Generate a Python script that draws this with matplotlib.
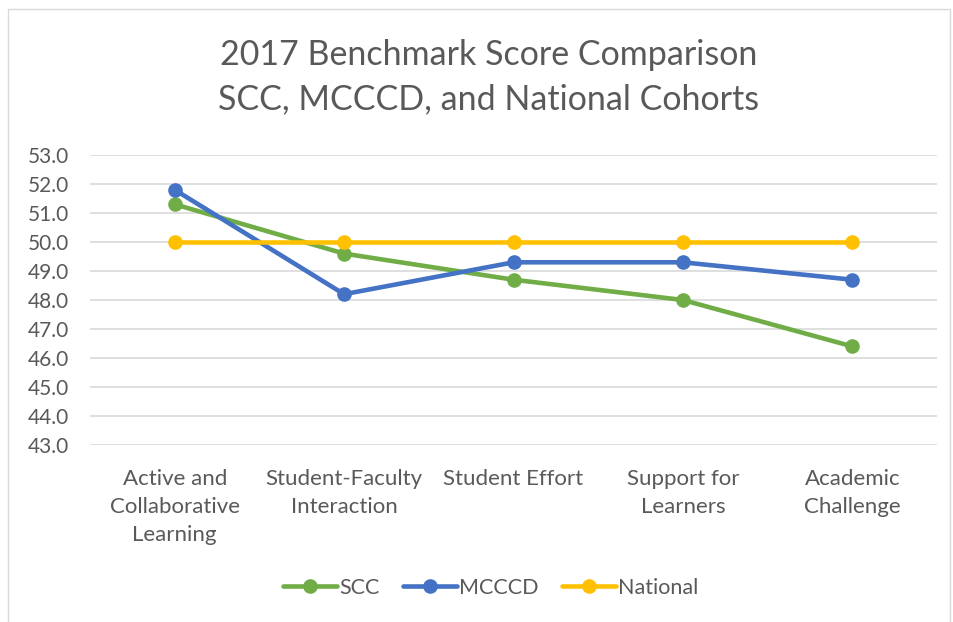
import matplotlib.pyplot as plt
from matplotlib.patches import Rectangle

plt.rcParams['font.family'] = ['Lato', 'DejaVu Sans']

categories = ["Active and\nCollaborative\nLearning", "Student-Faculty\nInteraction",
              "Student Effort", "Support for\nLearners", "Academic\nChallenge"]
scc = [51.3, 49.6, 48.7, 48.0, 46.4]
mcccd = [51.8, 48.2, 49.3, 49.3, 48.7]
national = [50.0, 50.0, 50.0, 50.0, 50.0]
yticks = [43, 44, 45, 46, 47, 48, 49, 50, 51, 52, 53]

text_col = "#595959"

fig = plt.figure(figsize=(9.54, 6.22), dpi=100)
# chart border
fig.patches.append(Rectangle((8 / 954, -0.01), 942 / 954, 1 - 9 / 622 + 0.01,
                             transform=fig.transFigure, fill=False,
                             edgecolor="#D9D9D9", linewidth=1))

ax = fig.add_axes([90 / 954, 1 - 445 / 622, 847 / 954, 290 / 622])
x = range(len(categories))
ax.plot(x, scc, color="#70AD47", lw=3.3, marker="o", ms=9.5, label="SCC",
        solid_capstyle="round", zorder=3)
ax.plot(x, mcccd, color="#4472C4", lw=3.3, marker="o", ms=9.5, label="MCCCD",
        solid_capstyle="round", zorder=4)
ax.plot(x, national, color="#FFC000", lw=3.3, marker="o", ms=9.5, label="National",
        solid_capstyle="round", zorder=5)

ax.set_xlim(-0.5, len(categories) - 0.5)
ax.set_ylim(43, 53)
ax.set_yticks(yticks)
ax.set_yticklabels([f"{v:.1f}" for v in yticks])
ax.set_xticks(list(x))
ax.set_xticklabels(categories, linespacing=1.5)
ax.tick_params(axis="x", length=0, labelsize=16, colors=text_col, pad=17)
ax.tick_params(axis="y", length=0, labelsize=15, colors=text_col, pad=15)
ax.grid(axis="y", color="#D9D9D9", lw=1.2)
ax.set_axisbelow(True)
for s in ax.spines.values():
    s.set_visible(False)

fig.text(489 / 954, 1 - 77 / 622, "2017 Benchmark Score Comparison\nSCC, MCCCD, and National Cohorts",
         ha="center", va="center", fontsize=24.5, color=text_col, linespacing=1.45)

leg = fig.legend(loc="center", bbox_to_anchor=(491 / 954, 1 - 588 / 622), ncol=3,
                 frameon=False, fontsize=15.5, handlelength=2.5, handletextpad=0.1,
                 columnspacing=1.1)
for t in leg.get_texts():
    t.set_color(text_col)

fig.savefig("out.png", dpi=100)
